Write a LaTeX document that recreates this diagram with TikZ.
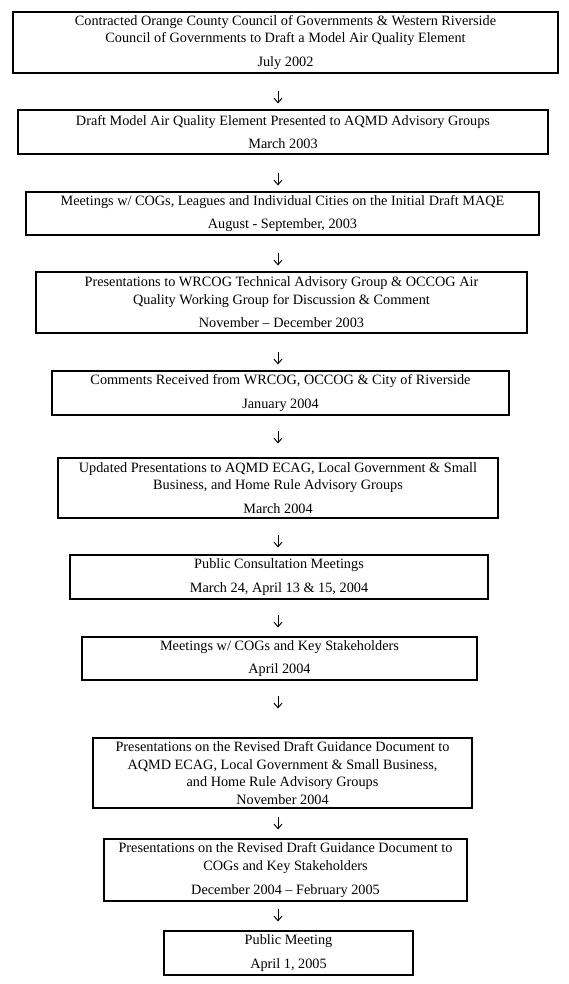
\documentclass[tikz,border=0pt]{standalone}
\usepackage{fontspec}
\setmainfont{Liberation Serif}
\usepackage{tikz}
\usetikzlibrary{arrows.meta}

\begin{document}
\begin{tikzpicture}[x=0.75pt,y=0.75pt,yscale=-1,xscale=1,
  stage/.style={draw, line width=0.8pt, inner sep=0pt, align=center,
    font=\fontsize{10.7}{13.2}\selectfont},
  arr/.style={line width=0.7pt, -{Straight Barb[length=3.5pt,width=6pt]}}]
\useasboundingbox (0,0) rectangle (568,984);

% Text Node
\node [stage, minimum width=408.75pt, minimum height=45.75pt] (c1) at (285.5,42.5)
  {Contracted Orange County Council of Governments \& Western Riverside\\
   Council of Governments to Draft a Model Air Quality Element\\[4.5pt] July 2002};
% Text Node
\node [stage, minimum width=397.5pt, minimum height=33pt] (c2) at (283,132)
  {Draft Model Air Quality Element Presented to AQMD Advisory Groups\\[4.5pt] March 2003};
% Text Node
\node [stage, minimum width=384.75pt, minimum height=32.25pt] (c3) at (282.5,213.5)
  {Meetings w/ COGs, Leagues and Individual Cities on the Initial Draft MAQE\\[4.5pt] August - September, 2003};
% Text Node
\node [stage, minimum width=368.25pt, minimum height=45.75pt] (c4) at (281.5,302.5)
  {Presentations to WRCOG Technical Advisory Group \& OCCOG Air\\
   Quality Working Group for Discussion \& Comment\\[4.5pt] November -- December 2003};
% Text Node
\node [stage, minimum width=342.75pt, minimum height=33pt] (c5) at (280.5,393)
  {Comments Received from WRCOG, OCCOG \& City of Riverside\\[4.5pt] January 2004};
% Text Node
\node [stage, minimum width=330pt, minimum height=45pt] (c6) at (278,488)
  {Updated Presentations to AQMD ECAG, Local Government \& Small\\
   Business, and Home Rule Advisory Groups\\[4.5pt] March 2004};
% Text Node
\node [stage, minimum width=313.5pt, minimum height=33pt] (c7) at (279,577)
  {Public Consultation Meetings\\[4.5pt] March 24, April 13 \& 15, 2004};
% Text Node
\node [stage, minimum width=296.25pt, minimum height=32.25pt] (c8) at (279.5,658.5)
  {Meetings w/ COGs and Key Stakeholders\\[4.5pt] April 2004};
% Text Node
\node [stage, minimum width=284.25pt, minimum height=52.5pt] (c9) at (282.5,773)
  {Presentations on the Revised Draft Guidance Document to\\
   AQMD ECAG, Local Government \& Small Business,\\
   and Home Rule Advisory Groups\\ November 2004};
% Text Node
\node [stage, minimum width=272.25pt, minimum height=46.5pt] (c10) at (285.5,870)
  {Presentations on the Revised Draft Guidance Document to\\
   COGs and Key Stakeholders\\[4.5pt] December 2004 -- February 2005};
% Text Node
\node [stage, minimum width=186.75pt, minimum height=33pt] (c11) at (288.5,953)
  {Public Meeting\\[4.5pt] April 1, 2005};

\coordinate (axis) at (278,0);

%Straight Lines
\draw [arr, shorten <=12.75pt, shorten >=4.5pt] (c1.south -| axis) -- (c2.north -| axis);
\draw [arr, shorten <=13.5pt, shorten >=4.5pt] (c2.south -| axis) -- (c3.north -| axis);
\draw [arr, shorten <=12.75pt, shorten >=4.5pt] (c3.south -| axis) -- (c4.north -| axis);
\draw [arr, shorten <=13.5pt, shorten >=4.5pt] (c4.south -| axis) -- (c5.north -| axis);
\draw [arr, shorten <=11.25pt, shorten >=10.5pt] (c5.south -| axis) -- (c6.north -| axis);
\draw [arr, shorten <=12pt, shorten >=5.25pt] (c6.south -| axis) -- (c7.north -| axis);
\draw [arr, shorten <=11.25pt, shorten >=6.75pt] (c7.south -| axis) -- (c8.north -| axis);
\draw [arr, shorten <=11.25pt, shorten >=21.75pt] (c8.south -| axis) -- (c9.north -| axis);
\draw [arr, shorten <=6pt, shorten >=6.75pt] (c9.south -| axis) -- (c10.north -| axis);
\draw [arr, shorten <=5.25pt, shorten >=6.75pt] (c10.south -| axis) -- (c11.north -| axis);

\end{tikzpicture}
\end{document}
